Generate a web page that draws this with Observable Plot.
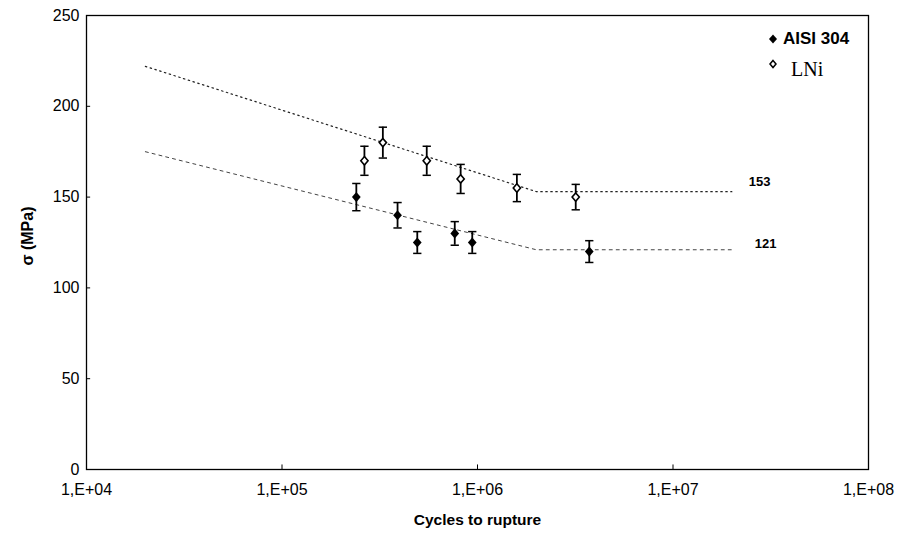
<!DOCTYPE html>
<html>
<head>
<meta charset="utf-8">
<script src="https://cdn.jsdelivr.net/npm/d3@7"></script>
<script src="https://cdn.jsdelivr.net/npm/@observablehq/plot@0.6"></script>
<style>
  body { margin: 0; background: #fff; }
  #wrap { position: relative; width: 910px; height: 545px; }
  #legend { position: absolute; left: 768px; top: 26px; font-family: "Liberation Sans", Arial, sans-serif; }
  .item { display: flex; align-items: center; height: 25px; }
  .item svg { margin-right: 5px; }
  #ylabel { position: absolute; left: 28px; top: 236px; transform: translate(-50%, -50%) rotate(-90deg);
            font-family: "Liberation Sans", Arial, sans-serif; font-weight: bold; font-size: 16px; white-space: nowrap; }
</style>
</head>
<body>
<div id="wrap"><div id="legend"></div><div id="ylabel"></div></div>
<script>
// Cycles to rupture and stress (MPa), with error half-widths
const aisiN     = [2.40e5, 3.90e5, 4.92e5, 7.65e5, 9.40e5, 3.73e6];
const aisiSigma = [150, 140, 125, 130, 125, 120];
const aisiErr   = [7.5, 7, 6, 6.5, 6, 6];

const lniN      = [2.64e5, 3.28e5, 5.50e5, 8.20e5, 1.59e6, 3.18e6];
const lniSigma  = [170, 180, 170, 160, 155, 150];
const lniErr    = [8, 8.5, 8, 8, 7.5, 7];

// fitted curves (Basquin + endurance limit)
const aisiFitN     = [2e4, 2e6, 2e7];
const aisiFitSigma = [175, 121, 121];
const lniFitN      = [2e4, 2e6, 2e7];
const lniFitSigma  = [222, 153, 153];

const xTicks = [1e4, 1e5, 1e6, 1e7, 1e8];
const yTicks = [0, 50, 100, 150, 200, 250];

const seriesNames = ["AISI 304", "LNi"];
const yLabel = "σ (MPa)";
const xLabel = "Cycles to rupture";

const aisi = aisiN.map((n, i) => ({n, s: aisiSigma[i], e: aisiErr[i]}));
const lni = lniN.map((n, i) => ({n, s: lniSigma[i], e: lniErr[i]}));
const aisiFit = aisiFitN.map((n, i) => ({n, s: aisiFitSigma[i]}));
const lniFit = lniFitN.map((n, i) => ({n, s: lniFitSigma[i]}));

const capF = 1.05;

// a diamond slightly taller than wide, like the spreadsheet marker
const diamond = {
  draw(context, size) {
    const r = Math.sqrt(size / Math.PI);
    context.moveTo(0, -r * 1.1);
    context.lineTo(r * 0.95, 0);
    context.lineTo(0, r * 1.1);
    context.lineTo(-r * 0.95, 0);
    context.closePath();
  }
};

const chart = Plot.plot({
  width: 910,
  height: 545,
  marginLeft: 86,
  marginRight: 42,
  marginTop: 15,
  marginBottom: 76,
  style: {fontFamily: "'Liberation Sans', Arial, sans-serif", fontSize: "16px", color: "#000", background: "#fff"},
  x: {type: "log", domain: [1e4, 1e8]},
  y: {domain: [0, 250]},
  marks: [
    Plot.frame({stroke: "#000", strokeWidth: 1.3}),
    Plot.axisX({ticks: xTicks, tickSize: 0, tickPadding: 14, label: null,
      tickFormat: d => "1,E+0" + Math.round(Math.log10(d)), fontSize: 16}),
    Plot.axisY({ticks: yTicks, tickSize: 0, tickPadding: 7, label: null, fontSize: 16}),
    Plot.ruleX(xTicks, {x: d => d, y1: 0, y2: 2.5, stroke: "#000"}),
    Plot.ruleY(yTicks, {y: d => d, x1: 1e4, x2: 1e4 * 1.05, stroke: "#000"}),
    // fits
    Plot.line(lniFit, {x: "n", y: "s", stroke: "#222", strokeWidth: 1.2, strokeDasharray: "1.5,3.5"}),
    Plot.line(aisiFit, {x: "n", y: "s", stroke: "#444", strokeWidth: 1, strokeDasharray: "3,4"}),
    Plot.text([lniFit[lniFit.length - 1]], {x: "n", y: "s", text: d => String(d.s), textAnchor: "start", dx: 17, dy: -10, fontWeight: "bold", fontSize: 13}),
    Plot.text([aisiFit[aisiFit.length - 1]], {x: "n", y: "s", text: d => String(d.s), textAnchor: "start", dx: 23, dy: -6, fontWeight: "bold", fontSize: 13}),
    // error bars
    ...[aisi, lni].flatMap(data => [
      Plot.ruleX(data, {x: "n", y1: d => d.s - d.e, y2: d => d.s + d.e, stroke: "#000", strokeWidth: 1.8}),
      Plot.link(data, {x1: d => d.n / capF, x2: d => d.n * capF, y1: d => d.s + d.e, y2: d => d.s + d.e, stroke: "#000", strokeWidth: 1.5}),
      Plot.link(data, {x1: d => d.n / capF, x2: d => d.n * capF, y1: d => d.s - d.e, y2: d => d.s - d.e, stroke: "#000", strokeWidth: 1.5})
    ]),
    Plot.dot(aisi, {x: "n", y: "s", symbol: diamond, r: 4.6, fill: "#000"}),
    Plot.dot(lni, {x: "n", y: "s", symbol: diamond, r: 3.8, fill: "#fff", stroke: "#000", strokeWidth: 1.6}),
    Plot.text([xLabel], {frameAnchor: "bottom", dy: 55, fontWeight: "bold", fontSize: 15.5})
  ]
});

const wrap = document.getElementById("wrap");
wrap.insertBefore(chart, wrap.firstChild);
document.getElementById("ylabel").textContent = yLabel;

const legend = document.getElementById("legend");
const glyphs = [
  '<svg width="10" height="10" viewBox="-5 -5 10 10"><path d="M0,-4.5L4,0L0,4.5L-4,0Z" fill="#000"/></svg>',
  '<svg width="10" height="10" viewBox="-5 -5 10 10"><path d="M0,-3.5L3,0L0,3.5L-3,0Z" fill="#fff" stroke="#000" stroke-width="1.5"/></svg>'
];
seriesNames.forEach((name, i) => {
  const div = document.createElement("div");
  div.className = "item";
  const label = i === 0
    ? `<span style="font-weight:bold;font-size:17px">${name}</span>`
    : `<span style="font-family:'Liberation Serif','Times New Roman',serif;font-size:20px;margin-left:8px;position:relative;top:6px">${name}</span>`;
  div.innerHTML = glyphs[i] + label;
  legend.appendChild(div);
});
</script>
</body>
</html>
